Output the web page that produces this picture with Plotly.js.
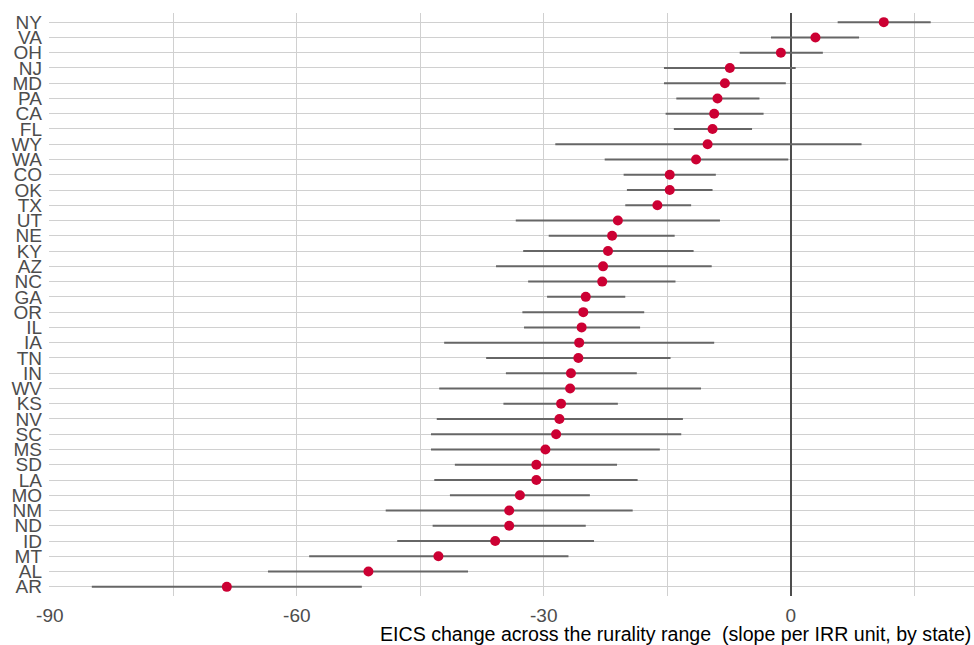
<!DOCTYPE html>
<html>
<head>
<meta charset="utf-8">
<script src="https://cdn.plot.ly/plotly-3.0.1.min.js"></script>
<style>html,body{margin:0;padding:0;background:#fff;}#chart{width:974px;height:645px;}</style>
</head>
<body>
<div id="chart"></div>
<script>
const states = ["NY","VA","OH","NJ","MD","PA","CA","FL","WY","WA","CO","OK","TX","UT","NE","KY","AZ","NC","GA","OR","IL","IA","TN","IN","WV","KS","NV","SC","MS","SD","LA","MO","NM","ND","ID","MT","AL","AR"];
const estimate = [11.3,3.0,-1.2,-7.4,-8.0,-8.9,-9.3,-9.5,-10.1,-11.5,-14.7,-14.7,-16.2,-21.0,-21.7,-22.2,-22.8,-22.9,-24.9,-25.2,-25.4,-25.7,-25.8,-26.7,-26.8,-27.9,-28.1,-28.5,-29.8,-30.9,-30.9,-32.9,-34.2,-34.2,-35.9,-42.8,-51.3,-68.5];
const lower = [5.7,-2.4,-6.2,-15.4,-15.4,-13.9,-15.2,-14.2,-28.6,-22.6,-20.3,-19.9,-20.1,-33.4,-29.4,-32.5,-35.8,-31.9,-29.6,-32.6,-32.4,-42.1,-37.0,-34.6,-42.7,-34.9,-43.0,-43.7,-43.7,-40.8,-43.3,-41.4,-49.2,-43.5,-47.8,-58.5,-63.5,-84.9];
const upper = [17.0,8.3,3.9,0.6,-0.6,-3.8,-3.3,-4.7,8.6,-0.3,-9.1,-9.5,-12.1,-8.6,-14.1,-11.8,-9.6,-14.0,-20.1,-17.8,-18.3,-9.3,-14.6,-18.7,-10.9,-21.0,-13.1,-13.3,-15.9,-21.1,-18.6,-24.4,-19.2,-24.9,-23.9,-27.0,-39.2,-52.1];
const xTickVals = [-90,-75,-60,-45,-30,-15,0,15];
const xTickText = ["-90","","-60","","-30","","0",""];
const xTitle = "EICS change across the rurality range\u00a0 (slope per IRR unit, by state)";

const font = "'Liberation Sans', Arial, Helvetica, sans-serif";
const trace = {
  type: "scatter",
  mode: "markers",
  x: estimate,
  y: states,
  marker: {color: "#CC0033", size: 10},
  error_x: {
    type: "data", symmetric: false,
    array: upper.map((u, i) => u - estimate[i]),
    arrayminus: lower.map((l, i) => estimate[i] - l),
    width: 0, thickness: 2, color: "#666666"
  },
  cliponaxis: false,
  hoverinfo: "x+y"
};
const layout = {
  width: 974, height: 645,
  margin: {l: 49, r: 0, t: 13, b: 49},
  paper_bgcolor: "#ffffff", plot_bgcolor: "#ffffff",
  showlegend: false,
  font: {family: font, color: "#4d4d4d", size: 19},
  xaxis: {
    range: [-90.1, 22.26], tickmode: "array", tickvals: xTickVals, ticktext: xTickText,
    showgrid: true, gridcolor: "#d0d0d0", gridwidth: 1,
    zeroline: true, zerolinecolor: "#4d4d4d", zerolinewidth: 1.7,
    showline: false, ticks: "", ticklabelstandoff: 6,
    tickfont: {family: font, size: 19, color: "#4d4d4d"},
    fixedrange: true
  },
  yaxis: {
    type: "category", categoryorder: "array", categoryarray: states,
    tickmode: "array", tickvals: states, ticktext: states,
    range: [37.6, -0.6],
    showgrid: true, gridcolor: "#d0d0d0", gridwidth: 1,
    showline: false, ticks: "", ticklabelstandoff: 6,
    tickfont: {family: font, size: 19, color: "#4d4d4d"},
    fixedrange: true
  },
  annotations: [{
    text: xTitle, xref: "paper", yref: "paper", x: 1, y: 0,
    xanchor: "right", yanchor: "bottom", yshift: -51, xshift: -1, showarrow: false,
    font: {family: font, size: 19.6, color: "#000000"}
  }]
};
Plotly.newPlot("chart", [trace], layout, {displayModeBar: false, staticPlot: true});
</script>
</body>
</html>
